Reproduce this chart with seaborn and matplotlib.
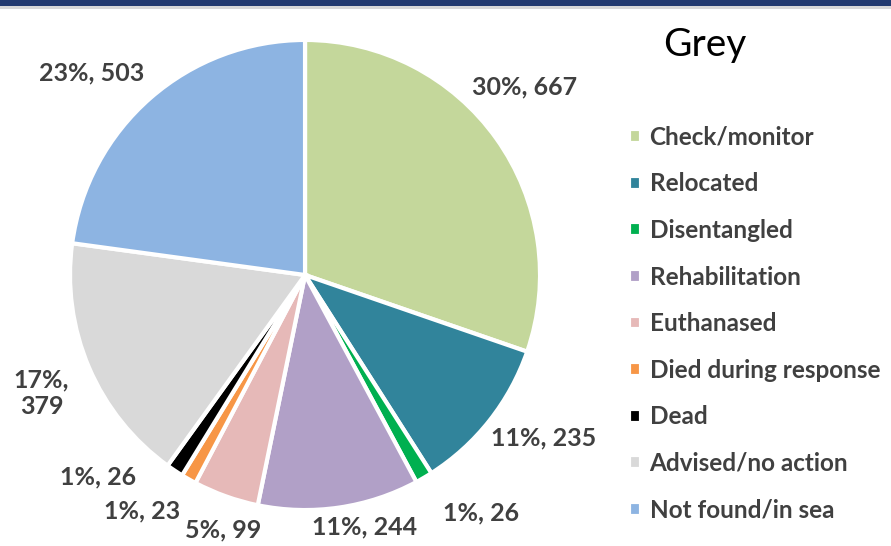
import numpy as np
import seaborn as sns
import matplotlib.pyplot as plt
from matplotlib.patches import Rectangle

sns.set_theme(style="white")
plt.rcParams['font.family'] = ['Lato', 'DejaVu Sans']

categories = ['Check/monitor', 'Relocated', 'Disentangled', 'Rehabilitation',
              'Euthanased', 'Died during response', 'Dead', 'Advised/no action',
              'Not found/in sea']
counts = [667, 235, 26, 244, 99, 23, 26, 379, 503]
pct_labels = ['30%, 667', '11%, 235', '1%, 26', '11%, 244', '5%, 99',
              '1%, 23', '1%, 26', '17%,\n379', '23%, 503']
colors = sns.color_palette(['#c4d79b', '#31849b', '#00b050', '#b1a0c7', '#e6b9b8',
                            '#f79646', '#000000', '#d9d9d9', '#8db4e2'])

# label placement tweaks (radial distance, angle shift in degrees)
label_r = [1.23, 1.23, 1.26, 1.10, 1.14, 1.22, 1.23, 1.23, 1.25]
label_shift = [5, 4, 6, 5, 2, -5, -12, 1, 5.5]

fig = plt.figure(figsize=(8.91, 5.46), dpi=100)
fig.patch.set_facecolor('white')
fig.patches.append(Rectangle((0, 1 - 6 / 546), 1, 6 / 546, transform=fig.transFigure,
                             facecolor='#233a70', edgecolor='none'))
fig.patches.append(Rectangle((0, 1 - 9 / 546), 1, 3 / 546, transform=fig.transFigure,
                             facecolor='#d8d8d8', edgecolor='none'))

ax = fig.add_axes([0, 0, 611 / 891, 1])
wedges, _ = ax.pie(counts, colors=colors, startangle=90, counterclock=False,
                   wedgeprops=dict(edgecolor='white', linewidth=3))
ax.set_xlim(-1.298, 1.302)
ax.set_ylim(-1.153, 1.170)
ax.set_aspect('auto')

total = sum(counts)
start = 90.0
for i, c in enumerate(counts):
    span = 360.0 * c / total
    mid = start - span / 2 + label_shift[i]
    start -= span
    x = label_r[i] * np.cos(np.radians(mid))
    y = label_r[i] * np.sin(np.radians(mid))
    ax.text(x, y, pct_labels[i], ha='center', va='center', fontsize=18,
            fontweight='bold', color='#404040', linespacing=1.2)

fig.text(705 / 891, 1 - 45 / 546, 'Grey', ha='center', va='center',
         fontsize=28, color='black')

fig.legend(wedges, categories, loc='upper left',
           bbox_to_anchor=(607 / 891, 1 - 104 / 546), frameon=False,
           handlelength=0.5, handleheight=0.5,
           handletextpad=0.35, labelspacing=0.97, labelcolor='#404040',
           prop=dict(weight='bold', size=17.5))

fig.savefig('out.png', dpi=100)
